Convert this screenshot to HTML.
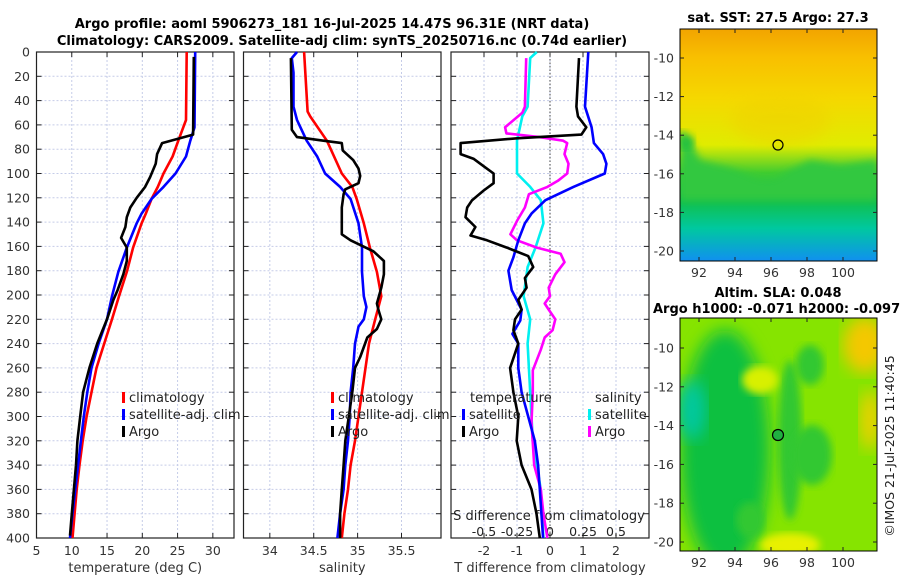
<!DOCTYPE html>
<html><head><meta charset="utf-8">
<style>
html,body{margin:0;padding:0;background:#fff;}
body{width:900px;height:580px;overflow:hidden;font-family:"Liberation Sans","DejaVu Sans",sans-serif;}
svg text{font-family:"DejaVu Sans","Liberation Sans",sans-serif;}
</style></head>
<body>
<svg id="fig" width="900" height="580" viewBox="0 0 900 580" xmlns="http://www.w3.org/2000/svg">
<defs>
<linearGradient id="sstGrad" x1="0" y1="0" x2="0" y2="1">
<stop offset="0" stop-color="#f2a400"/><stop offset="0.12" stop-color="#f8bf00"/><stop offset="0.3" stop-color="#f5d800"/><stop offset="0.5" stop-color="#e0ec00"/><stop offset="0.62" stop-color="#40cc30"/><stop offset="0.75" stop-color="#10c050"/><stop offset="0.86" stop-color="#00c8a0"/><stop offset="1" stop-color="#1090f0"/>
</linearGradient>
<filter id="blur4"><feGaussianBlur stdDeviation="4"/></filter>
<filter id="blur8"><feGaussianBlur stdDeviation="8"/></filter>
<clipPath id="clipTop"><rect x="680" y="29" width="197" height="232"/></clipPath>
<clipPath id="clipBot"><rect x="680" y="318" width="197" height="233"/></clipPath>
</defs>
<text x="332" y="28" text-anchor="middle" font-size="13" font-weight="bold">Argo profile: aoml 5906273_181 16-Jul-2025 14.47S 96.31E (NRT data)</text>
<text x="342" y="45" text-anchor="middle" font-size="13" font-weight="bold">Climatology: CARS2009. Satellite-adj clim: synTS_20250716.nc (0.74d earlier)</text>

<g id="sstMap" clip-path="url(#clipTop)">
<rect x="680" y="29" width="197" height="232" fill="url(#sstGrad)"/>
<path d="M680 135 L690 140 L700 160 L730 168 L760 180 L775 180 L790 170 L810 160 L840 165 L877 160 L877 200 L680 200 Z" fill="#30c840" filter="url(#blur4)"/>
<path d="M680 130 L695 140 L690 150 L680 150 Z" fill="#20c040" filter="url(#blur4)"/>
<ellipse cx="780" cy="120" rx="50" ry="25" fill="#f0d000" opacity="0.5" filter="url(#blur8)"/>
</g>
<rect x="680" y="29" width="197" height="232" fill="none" stroke="#000" stroke-width="1"/>
<circle cx="778" cy="145" r="5" fill="none" stroke="#000" stroke-width="1.2"/>
<text x="778" y="22" text-anchor="middle" font-size="13" font-weight="bold">sat. SST: 27.5 Argo: 27.3</text>

<g id="slaMap" clip-path="url(#clipBot)">
<rect x="680" y="318" width="197" height="233" fill="#86e400"/>
<ellipse cx="725" cy="450" rx="45" ry="120" fill="#10c040" filter="url(#blur8)"/>
<ellipse cx="692" cy="410" rx="14" ry="30" fill="#00c8a0" filter="url(#blur8)"/>
<ellipse cx="790" cy="440" rx="12" ry="80" fill="#30c830" filter="url(#blur4)"/>
<ellipse cx="812" cy="455" rx="20" ry="30" fill="#30c830" filter="url(#blur4)"/>
<ellipse cx="810" cy="365" rx="14" ry="20" fill="#30c830" filter="url(#blur4)"/>
<ellipse cx="865" cy="345" rx="22" ry="28" fill="#f4c800" filter="url(#blur8)"/>
<ellipse cx="870" cy="420" rx="10" ry="30" fill="#f0d000" filter="url(#blur8)"/>
<ellipse cx="760" cy="380" rx="18" ry="14" fill="#d8f000" filter="url(#blur4)"/>
<ellipse cx="790" cy="545" rx="30" ry="12" fill="#e8f000" filter="url(#blur4)"/>
<ellipse cx="750" cy="520" rx="14" ry="18" fill="#30c830" filter="url(#blur4)"/>
</g>
<rect x="680" y="318" width="197" height="233" fill="none" stroke="#000" stroke-width="1"/>
<circle cx="778" cy="435" r="5.5" fill="#20b040" stroke="#000" stroke-width="1.2"/>
<text x="778" y="297" text-anchor="middle" font-size="13" font-weight="bold">Altim. SLA: 0.048</text>
<text x="653" y="313" font-size="13" font-weight="bold">Argo h1000: -0.071 h2000: -0.097</text>
<text transform="translate(894,446) rotate(-90)" text-anchor="middle" font-size="12.5" fill="#222">©IMOS 21-Jul-2025 11:40:45</text>
<g id="plots"></g>
</svg>
<script>
// ---- data ----
const tDepth = [0,56,73,86,100,111,121,133,141,161,181,201,220,240,260,280,300,320,340,360,380,400];
const tClim  = [26.3,26.2,25.1,24.3,23.0,22.2,21.3,20.5,19.9,18.7,17.8,16.7,15.7,14.6,13.5,12.8,12.1,11.55,11.1,10.7,10.4,10.1];
const tSatDepth = [0,62,73,86,100,111,121,133,141,161,181,201,220,240,260,280,300,320,340,360,380,400];
const tSat   = [27.5,27.4,26.8,26.2,24.7,23.0,21.3,19.9,19.2,17.8,16.6,15.7,15.0,13.8,12.8,12.2,11.7,11.3,10.9,10.5,10.1,9.75];
const tArgoDepth = [4,68,75,84,92,103,111,120,128,136,144,153,161,172,183,196,204,220,230,240,260,280,300,320,340,360,380,398];
const tArgo  = [27.3,27.2,22.8,22.1,21.9,21.1,20.4,19.2,18.3,17.8,17.6,17.0,17.8,17.8,17.3,16.5,15.9,15.0,14.3,13.6,12.5,11.6,11.2,10.8,10.6,10.3,10.0,9.75];

const sClimDepth = [0,49,53,73,100,111,121,141,161,181,201,220,240,260,280,300,320,340,360,380,400];
const sClim  = [34.39,34.43,34.46,34.65,34.82,34.94,34.99,35.07,35.14,35.22,35.27,35.20,35.13,35.09,35.05,35.01,34.97,34.92,34.89,34.85,34.82];
const sSatDepth = [0,5,17,45,56,73,86,100,111,121,141,161,181,201,210,220,226,240,260,280,300,320,340,360,380,400];
const sSat   = [34.31,34.25,34.27,34.27,34.31,34.42,34.54,34.63,34.80,34.92,35.01,35.05,35.05,35.07,35.10,35.07,35.01,34.97,34.95,34.92,34.91,34.89,34.86,34.84,34.80,34.77];
const sArgoDepth = [5,64,70,73,75,81,89,96,102,108,113,117,128,150,155,164,172,183,194,207,213,220,228,235,251,260,280,300,320,340,360,380,400];
const sArgo  = [34.24,34.25,34.31,34.61,34.82,34.83,34.95,35.01,35.03,35.01,34.86,34.84,34.82,34.82,34.92,35.18,35.30,35.30,35.27,35.22,35.24,35.27,35.22,35.11,35.03,34.97,34.94,34.90,34.86,34.84,34.82,34.80,34.80];

const dtArgoDepth = [5,45,53,62,68,71,75,84,88,95,100,108,114,122,128,136,144,151,155,161,168,177,186,194,204,212,220,229,240,260,280,300,320,340,360,380,400];
const dtArgo = [0.88,0.80,0.85,1.1,0.95,-1.0,-2.71,-2.71,-2.31,-1.96,-1.71,-1.71,-2.01,-2.36,-2.51,-2.56,-2.26,-2.41,-1.91,-1.31,-0.66,-0.51,-0.76,-0.71,-0.96,-0.86,-1.06,-1.11,-0.96,-1.21,-1.11,-0.96,-1.01,-0.86,-0.56,-0.41,-0.31];
const dtSatDepth = [0,45,62,75,84,92,100,111,122,133,141,155,169,180,196,212,221,232,240,260,280,300,320,340,360,380,400];
const dtSat  = [1.16,1.06,1.26,1.33,1.61,1.71,1.66,0.71,-0.14,-0.56,-0.76,-0.96,-1.11,-1.26,-1.16,-0.86,-0.9,-1.14,-0.96,-0.96,-0.86,-0.66,-0.46,-0.36,-0.31,-0.26,-0.21];
const dsSatDepth = [0,5,45,53,73,100,111,122,141,161,177,201,220,240,260,280,300,320,340,360,380,400];
const dsSat  = [-0.10,-0.15,-0.17,-0.21,-0.25,-0.25,-0.15,-0.07,-0.05,-0.11,-0.17,-0.20,-0.15,-0.17,-0.16,-0.15,-0.14,-0.13,-0.10,-0.07,-0.06,-0.05];
const dsArgoDepth = [5,45,50,62,67,70,73,75,84,92,100,106,111,117,128,139,150,155,161,166,173,183,194,201,207,212,220,229,235,245,262,280,305,340,360,380,400];
const dsArgo = [-0.18,-0.19,-0.21,-0.34,-0.33,-0.08,0.10,0.13,0.11,0.14,0.13,0.06,-0.02,-0.16,-0.19,-0.25,-0.30,-0.25,-0.10,0.08,0.11,0.04,-0.01,0.0,-0.04,-0.01,0.04,0.02,-0.04,-0.07,-0.13,-0.13,-0.14,-0.12,-0.07,-0.05,-0.02];

const depthTicks = [0,20,40,60,80,100,120,140,160,180,200,220,240,260,280,300,320,340,360,380,400];
const tTicks = [5,10,15,20,25,30];
const sTicks = [34,34.5,35,35.5];
const sTickLabels = ['34','34.5','35','35.5'];
const dtTicks = [-2,-1,0,1,2];
const dsTicks = [-0.5,-0.25,0,0.25,0.5];
const latTicks = [-10,-12,-14,-16,-18,-20];
const lonTicks = [92,94,96,98,100];

// ---- axes ----
const NS='http://www.w3.org/2000/svg';
const g=document.getElementById('plots');
const Y0=52, Y1=538;
const yD = d => Y0 + d/400*(Y1-Y0);
function lin(d0,d1,r0,r1){return v=>r0+(v-d0)/(d1-d0)*(r1-r0);}
const P1={x0:36.5,x1:234}, P2={x0:243.5,x1:441}, P3={x0:451,x1:649};
const xT = lin(5,33,P1.x0,P1.x1);
const xS = lin(33.7,35.95,P2.x0,P2.x1);
const xDT = lin(-3,3,P3.x0,P3.x1);
const xDS = lin(-0.75,0.75,P3.x0,P3.x1);

function el(tag,attrs,parent){const e=document.createElementNS(NS,tag);for(const k in attrs)e.setAttribute(k,attrs[k]);(parent||g).appendChild(e);return e;}
function txt(s,attrs,parent){const e=el('text',attrs,parent);e.textContent=s;return e;}

function panel(P,xs,ticks,labels,name,title){
  const pg=el('g',{});
  
  
  depthTicks.forEach(d=>{ if(d>0&&d<400){const l=el('line',{x1:P.x0,x2:P.x1,y1:yD(d),y2:yD(d),stroke:'#c5cce8','stroke-width':1,'stroke-dasharray':'2,2'},pg);
    
    }
    el('line',{x1:P.x0,x2:P.x0+5,y1:yD(d),y2:yD(d),stroke:'#222'},pg);
    el('line',{x1:P.x1-5,x2:P.x1,y1:yD(d),y2:yD(d),stroke:'#222'},pg);
  });
  ticks.forEach((t,i)=>{const x=xs(t);
    const l=el('line',{x1:x,x2:x,y1:Y0,y2:Y1,stroke:'#c5cce8','stroke-width':1,'stroke-dasharray':'2,2'},pg);
    
    
    el('line',{x1:x,x2:x,y1:Y1-5,y2:Y1,stroke:'#222'},pg);
    el('line',{x1:x,x2:x,y1:Y0,y2:Y0+5,stroke:'#222'},pg);
    const tl=txt(labels[i],{x:x,y:555,'text-anchor':'middle','font-size':12.5,fill:'#333'},pg);
    
    
  });
  const r=el('rect',{x:P.x0,y:Y0,width:P.x1-P.x0,height:Y1-Y0,fill:'none',stroke:'#222','stroke-width':1.2},pg);
  const tt=txt(title,{x:(P.x0+P.x1)/2,y:572,'text-anchor':'middle','font-size':13,fill:'#333'},pg);
  
  
  return pg;
}
panel(P1,xT,tTicks,tTicks.map(String),'temperature-panel','temperature (deg C)');
panel(P2,xS,sTicks,sTickLabels,'salinity-panel','salinity');
panel(P3,xDT,dtTicks,dtTicks.map(String),'difference-panel','T difference from climatology');
// zero dotted line
const z=el('line',{x1:xDT(0),x2:xDT(0),y1:Y0,y2:Y1,stroke:'#444','stroke-width':1,'stroke-dasharray':'1.5,2'});


// depth labels
depthTicks.forEach(d=>{
  const t=txt(String(d),{x:30,y:yD(d)+4.5,'text-anchor':'end','font-size':12.5,fill:'#333'});
  
  
});
// S diff axis (inside panel)
const sd=txt('S difference from climatology',{x:549,y:520,'text-anchor':'middle','font-size':13,fill:'#222'});


dsTicks.forEach(v=>{
  const t=txt(String(v),{x:xDS(v),y:536,'text-anchor':'middle','font-size':12.5,fill:'#222'});
  
  
});

function series(depths,vals,xs,color,name){
  const pts=depths.map((d,i)=>xs(vals[i]).toFixed(1)+','+yD(d).toFixed(1)).join(' ');
  const p=el('polyline',{points:pts,fill:'none',stroke:color,'stroke-width':2.6,'stroke-linejoin':'round'});
  
  
}
series(tDepth,tClim,xT,'#ff0000','temp-climatology-line');
series(tSatDepth,tSat,xT,'#0000ff','temp-satellite-line');
series(tArgoDepth,tArgo,xT,'#000000','temp-argo-line');
series(sClimDepth,sClim,xS,'#ff0000','sal-climatology-line');
series(sSatDepth,sSat,xS,'#0000ff','sal-satellite-line');
series(sArgoDepth,sArgo,xS,'#000000','sal-argo-line');
series(dsSatDepth,dsSat,xDS,'#00f0f0','sdiff-satellite-line');
series(dsArgoDepth,dsArgo,xDS,'#ff00ff','sdiff-argo-line');
series(dtSatDepth,dtSat,xDT,'#0000ff','tdiff-satellite-line');
series(dtArgoDepth,dtArgo,xDT,'#000000','tdiff-argo-line');

function legend(x,y,color,label){
  const lg=el('g',{});
  
  
  el('rect',{x:x,y:y-9,width:3,height:11,fill:color},lg);
  txt(label,{x:x+7,y:y+1,'font-size':13,fill:'#222'},lg);
}
legend(122,401,'#ff0000','climatology');
legend(122,418,'#0000ff','satellite-adj. clim');
legend(122,435,'#000000','Argo');
legend(331,401,'#ff0000','climatology');
legend(331,418,'#0000ff','satellite-adj. clim');
legend(331,435,'#000000','Argo');
const lt=txt('temperature',{x:470,y:402,'font-size':13,fill:'#222'});


const ls=txt('salinity',{x:595,y:402,'font-size':13,fill:'#222'});


legend(462,418,'#0000ff','satellite');
legend(462,435,'#000000','Argo');
legend(588,418,'#00f0f0','satellite');
legend(588,435,'#ff00ff','Argo');

// map axes
const lonX = lin(92,100,699,843);
function mapAxes(top,bottom,yLat,name){
  const mg=el('g',{});
  
  
  latTicks.forEach(v=>{const y=yLat(v);
    el('line',{x1:680,x2:684,y1:y,y2:y,stroke:'#222'},mg);
    el('line',{x1:873,x2:877,y1:y,y2:y,stroke:'#222'},mg);
    txt(String(v),{x:674,y:y+4.5,'text-anchor':'end','font-size':12.5,fill:'#333'},mg);});
  lonTicks.forEach(v=>{const x=lonX(v);
    el('line',{x1:x,x2:x,y1:bottom-4,y2:bottom,stroke:'#222'},mg);
    el('line',{x1:x,x2:x,y1:top,y2:top+4,stroke:'#222'},mg);
    txt(String(v),{x:x,y:bottom+16,'text-anchor':'middle','font-size':12.5,fill:'#333'},mg);});
}
mapAxes(29,261,lin(-10,-20,58,251),'sst-map-axes');
mapAxes(318,551,lin(-10,-20,348,542),'sla-map-axes');
</script>
</body></html>
